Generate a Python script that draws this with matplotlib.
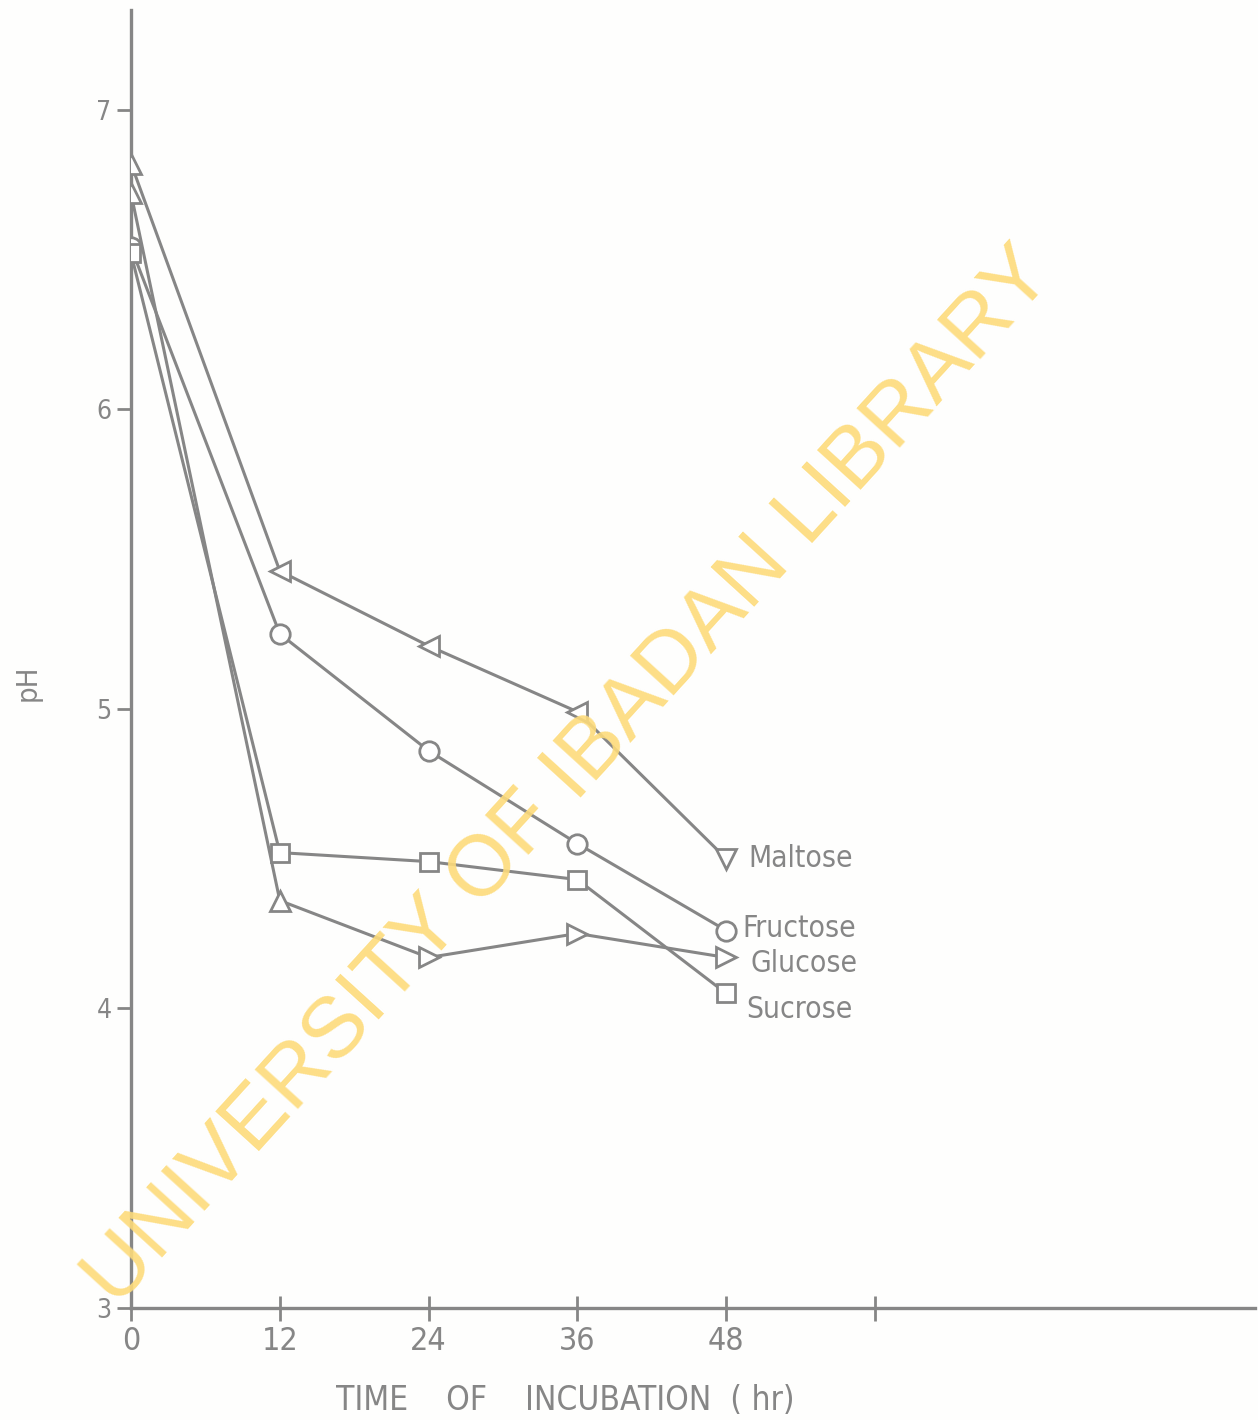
import matplotlib
matplotlib.use("Agg")
import matplotlib.pyplot as plt
from matplotlib import font_manager

# pH of the culture medium against incubation time, one series per sugar
hours = [0, 12, 24, 36, 48]
maltose = [6.82, 5.46, 5.21, 4.99, 4.50]
fructose = [6.54, 5.25, 4.86, 4.55, 4.26]
glucose = [6.72, 4.36, 4.17, 4.25, 4.17]
sucrose = [6.52, 4.52, 4.49, 4.43, 4.05]

names = ["Maltose", "Fructose", "Glucose", "Sucrose"]
series = [maltose, fructose, glucose, sucrose]
# markers were drawn by hand, so the triangles point different ways along a line
marks = [
    ["^", "<", "<", "<", "v"],
    ["o"] * 5,
    ["^", "^", ">", ">", ">"],
    ["s"] * 5,
]
label_offsets = [(22, 0), (16, 2), (24, -6), (20, -16)]

yticks = [3, 4, 5, 6, 7]
xticks = [0, 12, 24, 36, 48, 60]
xticklabels = ["0", "12", "24", "36", "48", ""]

ink = "#868686"
narrow = font_manager.FontProperties(family="DejaVu Sans", stretch="condensed")


def lab(size):
    fp = narrow.copy()
    fp.set_size(size)
    return fp


fig = plt.figure(figsize=(12.58, 14.2), dpi=100)
fig.patch.set_facecolor("#fefefd")
ax = fig.add_axes([131 / 1258, 1 - 1308 / 1420, (1255 - 131) / 1258, (1308 - 10) / 1420])
ax.patch.set_alpha(0)

for vals, mk in zip(series, marks):
    ax.plot(hours, vals, color=ink, lw=2.2, zorder=2)
    for x, y, m in zip(hours, vals, mk):
        ms = 13 if m == "s" else 14
        ax.plot(x, y, marker=m, ms=ms, mfc="white", mec=ink, mew=2.0,
                linestyle="none", zorder=3)

for name, vals, off in zip(names, series, label_offsets):
    ax.annotate(name, (hours[-1], vals[-1]), xytext=off, textcoords="offset pixels",
                ha="left", va="center", fontproperties=lab(21.5), color=ink)

ax.set_xlim(0, (1255 - 131) / 12.4)
ax.set_ylim(3, 3 + (1308 - 10) / 299.6)

for side in ["top", "right"]:
    ax.spines[side].set_visible(False)
for side in ["left", "bottom"]:
    ax.spines[side].set_color(ink)
    ax.spines[side].set_linewidth(2.4)

ax.set_yticks(yticks)
ax.set_yticklabels([str(t) for t in yticks], fontproperties=lab(19), color=ink)
ax.set_xticks(xticks)
ax.set_xticklabels(xticklabels, fontproperties=lab(23), color=ink)
ax.tick_params(axis="y", direction="out", length=10, width=2, color=ink, pad=4)
ax.tick_params(axis="x", direction="inout", length=18, width=2, color=ink, pad=4)

ax.set_xlabel("TIME    OF    INCUBATION  ( hr)", fontproperties=lab(24), color=ink)
ax.xaxis.label.set_verticalalignment("center")
ax.xaxis.set_label_coords((565 - 131) / 1124, -(1400 - 1308) / 1298)
ax.set_ylabel("pH", fontproperties=lab(21), color=ink)
ax.yaxis.label.set_verticalalignment("center")
ax.yaxis.set_label_coords((28 - 131) / 1124, (1308 - 683) / 1298)

# library stamp across the page
fig.text(570 / 1258, 1 - 777 / 1420, "UNIVERSITY OF IBADAN LIBRARY",
         rotation=47.7, rotation_mode="anchor", ha="center", va="center",
         fontsize=62, color="#fddb7a", family=["Liberation Sans", "DejaVu Sans"],
         zorder=5, alpha=0.9)

fig.savefig("out.png", dpi=100, facecolor=fig.get_facecolor())
